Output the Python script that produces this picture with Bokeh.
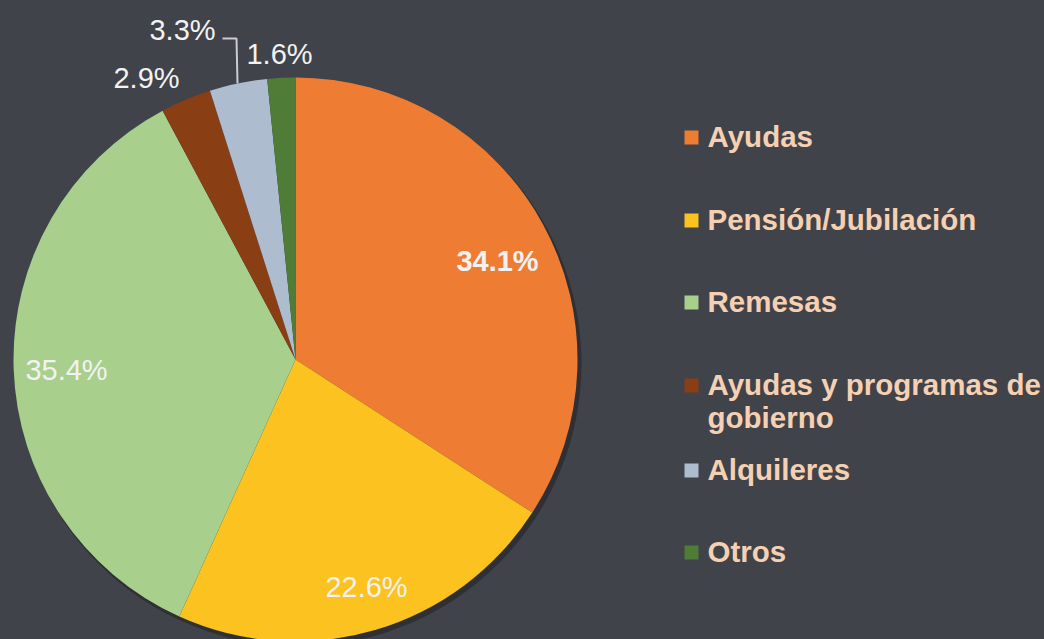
import numpy as np
import textwrap
from bokeh.plotting import figure
from bokeh.models import Range1d, ColumnDataSource
from bokeh.core.properties import value
from bokeh.embed import file_html
from bokeh.resources import INLINE

# ---------------- data ----------------
categories = ["Ayudas", "Pensión/Jubilación", "Remesas",
              "Ayudas y programas de gobierno", "Alquileres", "Otros"]
shares = [34.1, 22.6, 35.4, 2.9, 3.3, 1.6]
pct_labels = ["34.1%", "22.6%", "35.4%", "2.9%", "3.3%", "1.6%"]

# ---------------- style / layout ----------------
colors = ["#EE7D33", "#FCC21F", "#A8CF8C", "#8A3E14", "#AEBCCF", "#4F7C37"]
BG = "#40434a"
LEGEND_TXT = "#f6d0b2"
LABEL_TXT = "#f2f2f2"
FONT = "Liberation Sans"

W, H = 1044, 639
def X(ix):                # image pixel -> data x
    return ix
def Y(iy):                # image pixel -> data y
    return H - iy

cx, cy, R = X(295), Y(359), 282

# label positions (image pixels) and weights
label_pos = [(497, 260), (366, 586), (66, 369), (146, 77), (182, 29), (279, 53)]
label_bold = [True, False, False, False, False, False]
leader = [(222, 38), (236, 38), (237, 83)]   # for 3.3% label

legend_rows = [137, 220, 302, 385, 470, 552]
legend_sq_x = 691
legend_txt_x = 707
legend_line_h = 33

# ---------------- figure ----------------
p = figure(width=W, height=H, x_range=Range1d(0, W), y_range=Range1d(0, H),
           output_backend="svg", toolbar_location=None, min_border=0)
p.axis.visible = False
p.grid.visible = False
p.outline_line_color = None
p.background_fill_color = BG
p.border_fill_color = BG

vals = np.array(shares, dtype=float)
frac = vals / vals.sum()
cum = np.concatenate([[0.0], np.cumsum(frac)])
start = np.pi / 2 - 2 * np.pi * cum[1:]
end = np.pi / 2 - 2 * np.pi * cum[:-1]

# shadow
p.circle(x=[cx + 3], y=[cy - 4], radius=R + 1, fill_color="#000000",
         fill_alpha=0.28, line_color=None)

src = ColumnDataSource(dict(start=start, end=end, color=colors, cat=categories))
p.wedge(x=cx, y=cy, radius=R, start_angle="start", end_angle="end",
        fill_color="color", line_color=None, source=src)

# leader line
p.line(x=[X(a) for a, b in leader], y=[Y(b) for a, b in leader],
       line_color="#c9cdd3", line_width=2)

# percentage labels
for (ix, iy), t, b in zip(label_pos, pct_labels, label_bold):
    p.text(x=[X(ix)], y=[Y(iy)], text=[t], text_color=LABEL_TXT,
           text_font=value(FONT), text_font_size="29px",
           text_font_style="bold" if b else "normal",
           text_align="center", text_baseline="middle")

# legend
for row, cat, col in zip(legend_rows, categories, colors):
    p.rect(x=[X(legend_sq_x)], y=[Y(row)], width=14, height=14,
           fill_color=col, line_color=None)
    lines = textwrap.wrap(cat, 21)
    for k, ln in enumerate(lines):
        p.text(x=[X(legend_txt_x)], y=[Y(row - 1 + k * legend_line_h)], text=[ln],
               text_color=LEGEND_TXT, text_font=value(FONT),
               text_font_size="29.5px", text_font_style="bold",
               text_align="left", text_baseline="middle")

html = file_html(p, INLINE)
html = html.replace("</head>", "<style>body{background:%s;}</style></head>" % BG, 1)
open("out.html", "w").write(html)
